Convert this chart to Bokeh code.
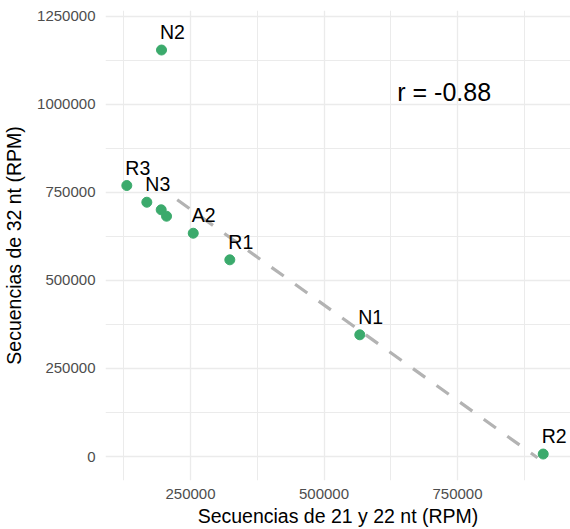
from bokeh.plotting import figure
from bokeh.models import ColumnDataSource, FixedTicker, NumeralTickFormatter, Range1d
from bokeh.core.properties import value
from bokeh.embed import file_html
from bokeh.resources import INLINE

# Small RNA abundance per library (reads per million)
samples = ["N2", "R3", "N3", "", "", "A2", "R1", "N1", "R2"]
rpm_21_22 = [195700, 130700, 168200, 195100, 205100, 255100, 323600, 567000, 910500]
rpm_32 = [1154000, 769300, 721900, 700400, 682200, 633900, 558400, 345500, 7000]

# Fitted trend line end points
fit_x = [225100, 899800]
fit_y = [728800, -3700]

corr_text = "r = -0.88"
corr_x = 725000
corr_y = 1036000

x_ticks = [250000, 500000, 750000]
x_minor = [125000, 375000, 625000, 875000]
y_ticks = [0, 250000, 500000, 750000, 1000000, 1250000]
y_minor = [125000, 375000, 625000, 875000, 1125000]

FONT = "Liberation Sans"
GRID = "#EBEBEB"

p = figure(
    width=570, height=529,
    output_backend="svg", toolbar_location=None,
    x_range=Range1d(90800, 961600), y_range=Range1d(-68100, 1266200),
    min_border_left=105, min_border_right=0,
    min_border_top=10, min_border_bottom=49,
    background_fill_color="white", border_fill_color="white",
)
p.outline_line_color = None

p.xaxis.ticker = FixedTicker(ticks=x_ticks, minor_ticks=x_minor)
p.yaxis.ticker = FixedTicker(ticks=y_ticks, minor_ticks=y_minor)
p.xaxis.formatter = NumeralTickFormatter(format="0")
p.yaxis.formatter = NumeralTickFormatter(format="0")

for ax in (p.xaxis, p.yaxis):
    ax.axis_line_color = None
    ax.major_tick_line_color = None
    ax.minor_tick_line_color = None
    ax.major_tick_out = 0
    ax.major_tick_in = 0
    ax.minor_tick_out = 0
    ax.minor_tick_in = 0
    ax.major_label_text_font = FONT
    ax.major_label_text_font_size = "15px"
    ax.major_label_text_color = "#4D4D4D"
    ax.axis_label_text_font = FONT
    ax.axis_label_text_font_size = "19.5px"
    ax.axis_label_text_font_style = "normal"
    ax.axis_label_text_color = "black"

p.xaxis.axis_label = "Secuencias de 21 y 22 nt (RPM)"
p.yaxis.axis_label = "Secuencias de 32 nt (RPM)"
p.xaxis.major_label_standoff = 8
p.xaxis.axis_label_standoff = 3
p.yaxis.major_label_standoff = 10
p.yaxis.axis_label_standoff = 9

for g in (p.xgrid, p.ygrid):
    g.grid_line_color = GRID
    g.grid_line_width = 1.3
    g.minor_grid_line_color = GRID
    g.minor_grid_line_width = 1.0

src = ColumnDataSource(dict(x=rpm_21_22, y=rpm_32, name=samples))

p.line(fit_x, fit_y, line_color="#B3B3B3", line_width=3.2, line_dash="15 14")

p.scatter("x", "y", source=src, size=10, fill_color="#3BAA6C", line_color="#3BAA6C")

p.text("x", "y", text="name", source=src,
       text_font=value(FONT), text_font_size="19.5px", text_color="black",
       text_align="left", text_baseline="alphabetic",
       x_offset=-1.5, y_offset=-18)

p.text(x=[corr_x], y=[corr_y], text=[corr_text],
       text_font=value(FONT), text_font_size="25px", text_color="black",
       text_align="center", text_baseline="middle")

open("out.html", "w").write(file_html(p, INLINE))
